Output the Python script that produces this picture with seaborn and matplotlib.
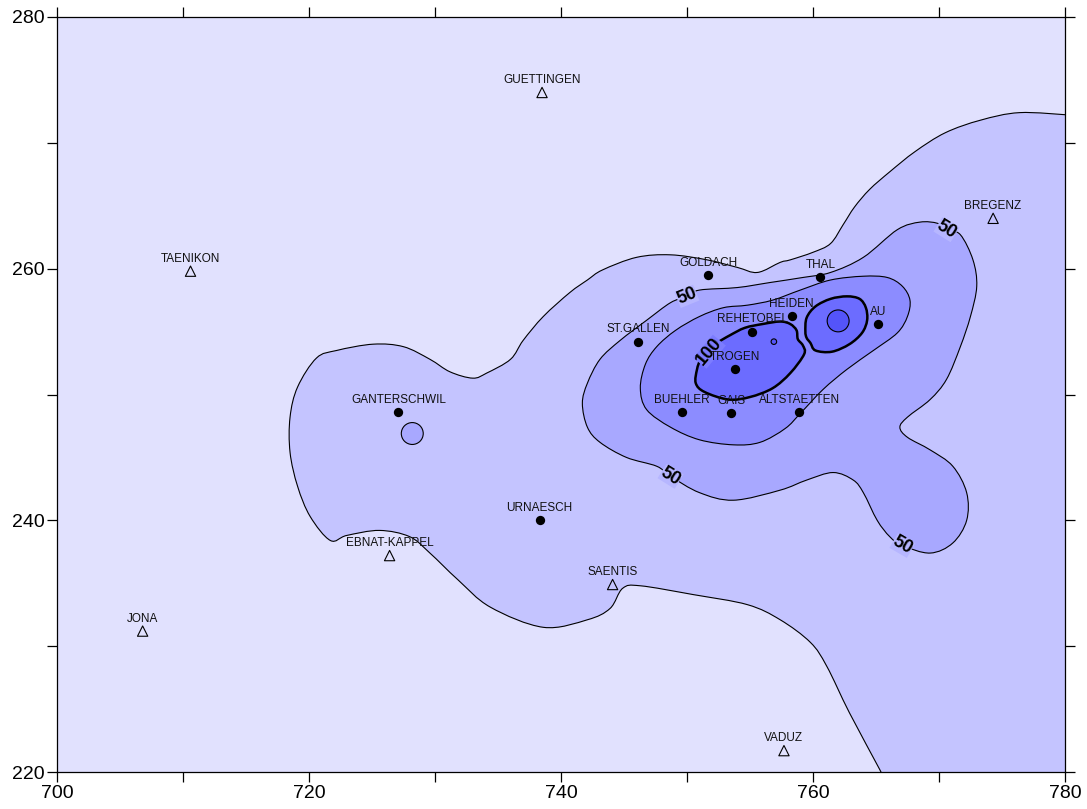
import numpy as np
import pandas as pd
import matplotlib
matplotlib.use("Agg")
import matplotlib.pyplot as plt
import seaborn as sns
from matplotlib.path import Path
from matplotlib.patches import PathPatch, Circle

# stations with measurements (filled dots)
meas_name = ['GOLDACH', 'THAL', 'HEIDEN', 'REHETOBEL', 'AU', 'ST.GALLEN', 'TROGEN',
             'BUEHLER', 'GAIS', 'ALTSTAETTEN', 'GANTERSCHWIL', 'URNAESCH']
meas_x = [751.7, 760.6, 758.3, 755.2, 765.2, 746.1, 753.8, 749.6, 753.5, 758.9, 727.1, 738.3]
meas_y = [259.5, 259.3, 256.2, 255.0, 255.6, 254.2, 252.0, 248.6, 248.5, 248.6, 248.6, 240.0]

# reference stations (open triangles)
ref_name = ['GUETTINGEN', 'TAENIKON', 'BREGENZ', 'EBNAT-KAPPEL', 'JONA', 'SAENTIS', 'VADUZ']
ref_x = [738.5, 710.6, 774.3, 726.4, 706.8, 744.1, 757.7]
ref_y = [274.0, 259.8, 264.0, 237.2, 231.2, 234.9, 221.7]

# isolines (km)
iso25_x = [780.5, 776.4, 773.3, 770.5, 768.1, 766.1, 764.5, 763.3, 762.4, 761.4, 760.0, 758.2,
           757.4, 755.6, 754.0, 751.6, 748.7, 746.0, 743.3, 742.1, 740.7, 738.6, 737.0, 736.0,
           734.1, 733.0, 731.2, 729.6, 727.5, 725.1, 722.2, 720.6, 719.1, 718.5, 718.5, 719.1,
           720.1, 721.7, 723.0, 725.6, 728.0, 729.6, 731.8, 734.4, 738.6, 742.1, 743.9, 744.9,
           746.3, 750.5, 754.8, 757.4, 759.8, 761.1, 762.9, 765.3, 765.6]
iso25_y = [272.2, 272.4, 271.8, 270.8, 269.3, 267.7, 266.3, 264.9, 263.5, 262.0, 261.3, 260.7,
           260.5, 259.7, 260.1, 260.7, 261.1, 260.9, 259.9, 259.1, 258.1, 256.2, 254.3, 252.8,
           251.7, 251.3, 251.8, 252.8, 253.8, 254.0, 253.5, 252.9, 250.6, 248.2, 245.4, 242.7,
           240.3, 238.4, 238.8, 239.2, 238.7, 237.4, 235.3, 233.1, 231.5, 232.1, 233.0, 234.6,
           234.8, 234.1, 233.3, 232.1, 230.3, 228.4, 224.7, 220.2, 219.5]

iso50_x = [743.1, 744.7, 746.8, 748.7, 750.0, 751.0, 754.0, 756.6, 759.2, 761.4, 764.0, 766.7,
           768.5, 769.9, 770.6, 771.7, 772.7, 773.0, 772.5, 771.7, 770.6, 769.3, 767.5, 766.9,
           767.5, 769.3, 771.1, 772.2, 772.2, 771.1, 769.3, 767.1, 766.1, 765.1, 764.0, 763.2,
           761.6, 759.5, 757.4, 753.7, 751.0, 748.7, 747.6, 745.2, 743.1, 742.1, 741.7, 742.1]
iso50_y = [252.8, 254.3, 255.9, 257.3, 257.8, 258.3, 258.5, 258.9, 259.3, 259.7, 260.9, 263.1,
           263.7, 263.6, 263.1, 262.7, 260.7, 258.6, 256.2, 253.8, 251.2, 249.6, 248.2, 247.4,
           246.6, 245.6, 244.3, 242.2, 240.0, 238.2, 237.4, 238.0, 238.7, 240.0, 242.2, 243.2,
           243.8, 243.2, 242.4, 241.6, 242.2, 243.5, 244.3, 245.0, 246.2, 247.4, 249.3, 250.9]

iso75_x = [746.3, 746.7, 747.6, 749.1, 751.0, 752.9, 754.8, 756.8, 759.0, 761.4, 764.0, 765.9,
           767.1, 767.7, 767.5, 766.7, 764.8, 762.7, 760.8, 759.0, 757.8, 755.8, 753.7, 751.0,
           748.7, 746.8]
iso75_y = [250.5, 252.4, 253.8, 255.1, 256.2, 256.9, 257.1, 257.5, 258.3, 259.1, 259.4, 259.3,
           258.6, 257.5, 256.2, 254.9, 253.5, 252.0, 250.4, 248.5, 247.3, 246.2, 246.0, 246.4,
           247.4, 248.8]

iso100a_x = [750.8, 750.7, 751.4, 753.3, 755.0, 756.8, 758.2, 759.3, 759.2, 758.8, 758.7, 758.2,
             757.4, 756.0, 754.6, 753.4, 752.4, 751.8, 751.1]
iso100a_y = [252.0, 250.9, 250.2, 249.6, 249.8, 250.5, 251.7, 253.2, 253.9, 254.4, 255.1, 255.6,
             255.8, 255.6, 255.3, 254.7, 254.1, 253.5, 252.8]

iso100b_x = [759.4, 759.5, 760.2, 761.4, 762.7, 763.7, 764.2, 764.3, 763.9, 762.9, 761.5, 760.2,
             759.8, 759.5]
iso100b_y = [255.0, 256.1, 257.0, 257.6, 257.8, 257.6, 256.9, 255.9, 254.9, 254.0, 253.4, 253.5,
             254.1, 254.5]

# small closed rings: centre x, centre y, radius, level
ring_x = [728.2, 762.0, 756.9]
ring_y = [246.9, 255.85, 254.2]
ring_r = [0.87, 0.87, 0.22]
ring_lev = [50, 125, 125]

# contour labels
lab_text = ['50', '50', '50', '50', '100']
lab_x = [750.0, 770.6, 748.7, 767.1, 751.8]
lab_y = [257.8, 263.1, 243.5, 238.0, 253.4]
lab_rot = [22, -32, -32, -30, 50]
lab_bg = ['#b6b6ff', '#b6b6ff', '#b6b6ff', '#b6b6ff', '#7c7cff']

fills = {0: '#e1e1fe', 25: '#c4c4ff', 50: '#a8a8ff', 75: '#8c8cff', 100: '#6c6cff', 125: '#5454fa'}


def smooth(xs, ys, closed=True):
    p = np.column_stack([xs, ys])
    n = len(p)
    verts = [p[0]]
    codes = [Path.MOVETO]
    nseg = n if closed else n - 1
    for i in range(nseg):
        p0 = p[i - 1] if (closed or i > 0) else p[i]
        p1 = p[i]
        p2 = p[(i + 1) % n]
        p3 = p[(i + 2) % n] if (closed or i + 2 < n) else p2
        verts += [p1 + (p2 - p0) / 6, p2 - (p3 - p1) / 6, p2]
        codes += [Path.CURVE4] * 3
    if closed:
        verts.append(p[0])
        codes.append(Path.CLOSEPOLY)
    return verts, codes


sns.set_style("ticks")
plt.rcParams['font.family'] = ['Liberation Sans', 'DejaVu Sans']

fig = plt.figure(figsize=(10.87, 8.09), dpi=100)
ax = fig.add_axes([0.0524, 0.0457, 0.9273, 0.9333])
ax.set_facecolor(fills[0])

# outer isoline runs off the frame: close it along the right and bottom edges
v, c = smooth(iso25_x, iso25_y, closed=False)
ax.add_patch(PathPatch(Path(v + [(781, 219.5), (781, 272.2), v[0]],
                            c + [Path.LINETO, Path.LINETO, Path.CLOSEPOLY]),
                       facecolor=fills[25], edgecolor='none', zorder=1))
ax.add_patch(PathPatch(Path(v, c), facecolor='none', edgecolor='black', lw=0.8, zorder=3))

for xs, ys, lev, lw in [(iso50_x, iso50_y, 50, 0.8), (iso75_x, iso75_y, 75, 0.8),
                        (iso100a_x, iso100a_y, 100, 1.8), (iso100b_x, iso100b_y, 100, 1.8)]:
    v, c = smooth(xs, ys)
    ax.add_patch(PathPatch(Path(v, c), facecolor=fills[lev], edgecolor='black', lw=lw,
                           zorder=1 + lev / 100))

for cx, cy, r, lev in zip(ring_x, ring_y, ring_r, ring_lev):
    ax.add_patch(Circle((cx, cy), r, facecolor=fills[lev], edgecolor='black', lw=0.8,
                        zorder=2.5))

for t, x, y, rot, bg in zip(lab_text, lab_x, lab_y, lab_rot, lab_bg):
    ax.text(x, y, t, rotation=rot, ha='center', va='center', fontsize=13, fontweight='bold',
            color='black', rotation_mode='anchor', zorder=4,
            bbox=dict(boxstyle='square,pad=0.0', facecolor=bg, edgecolor='none'))

meas = pd.DataFrame({'x': meas_x, 'y': meas_y, 'name': meas_name})
ref = pd.DataFrame({'x': ref_x, 'y': ref_y, 'name': ref_name})

sns.scatterplot(data=meas, x='x', y='y', ax=ax, color='black', s=45, edgecolor='black',
                linewidth=0, zorder=5, legend=False)
sns.scatterplot(data=ref, x='x', y='y', ax=ax, marker='^', s=55, facecolor='none',
                edgecolor='black', linewidth=0.8, zorder=5, legend=False)

for df in (meas, ref):
    for _, row in df.iterrows():
        ax.annotate(row['name'], (row['x'], row['y']), xytext=(0, 4.5),
                    textcoords='offset points', ha='center', va='bottom', fontsize=8.5,
                    color='#111111', zorder=6)

ax.set_xlim(700, 780)
ax.set_ylim(220, 280)
ax.set_xticks(np.arange(700, 781, 20))
ax.set_xticks(np.arange(710, 780, 20), minor=True)
ax.set_yticks(np.arange(220, 281, 20))
ax.set_yticks(np.arange(230, 280, 20), minor=True)
ax.tick_params(which='both', direction='out', length=7, width=0.9, color='black',
               top=True, right=True, labelsize=14, labelcolor='black', pad=2)
ax.set_xlabel('')
ax.set_ylabel('')
for s in ax.spines.values():
    s.set_visible(True)
    s.set_color('black')
    s.set_linewidth(0.9)

fig.savefig('out.png', dpi=100)
